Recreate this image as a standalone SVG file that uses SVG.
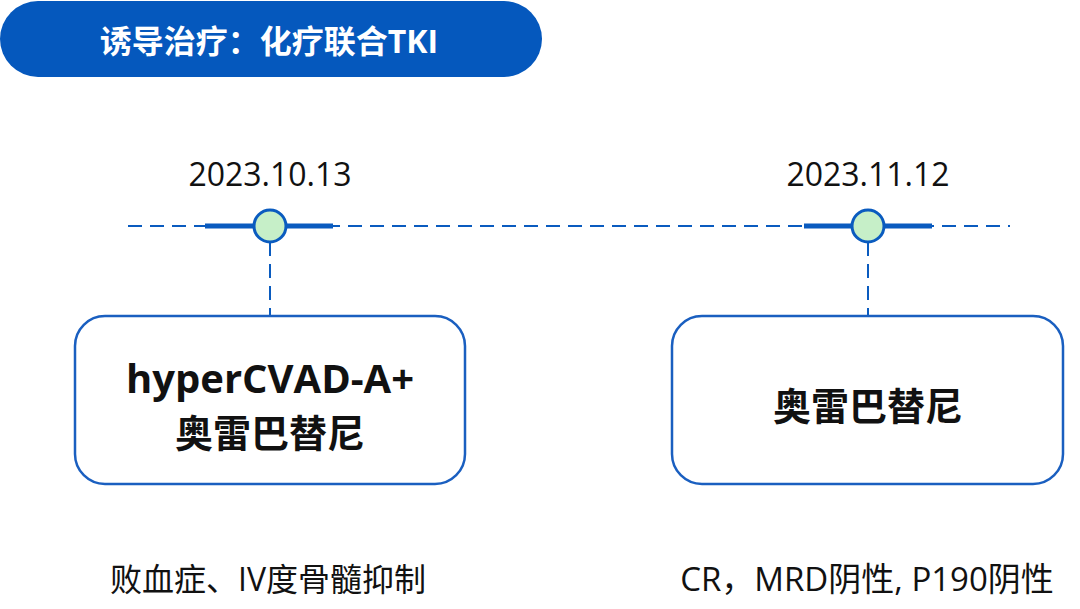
<svg xmlns="http://www.w3.org/2000/svg" width="1080" height="609" viewBox="0 0 1080 609">
<style>
.t{font-family:"Open Sans","Noto Sans CJK SC",sans-serif;fill:#111;}
.b{font-weight:bold;}
.dash{stroke:#0a5bbf;stroke-width:2;stroke-dasharray:14 8;fill:none;}
.thick{stroke:#0a5bbf;stroke-width:5;}
.dot{fill:#c6efc8;stroke:#0a5bbf;stroke-width:3;}
.box{fill:#fff;stroke:#1a5fc0;stroke-width:2.5;}
</style>
<rect width="1080" height="609" fill="#fff"/>
<g id="header">
<rect x="0" y="1" width="542" height="76" rx="38" fill="#0558bd"/>
<text class="t b" x="269" y="53" font-size="32" text-anchor="middle" style="fill:#fff">诱导治疗：化疗联合TKI</text>
</g>
<g id="connectors">
<line class="dash" x1="128" y1="226" x2="1010" y2="226"/>
<line class="thick" x1="205" y1="226" x2="333" y2="226"/>
<line class="thick" x1="804" y1="226" x2="932" y2="226"/>
<line class="dash" x1="270" y1="242" x2="270" y2="316"/>
<line class="dash" x1="868" y1="242" x2="868" y2="316"/>
</g>
<g id="m1">
<circle class="dot" cx="270" cy="226" r="16"/>
<text class="t" x="270" y="186" font-size="32" text-anchor="middle">2023.10.13</text>
</g>
<g id="m2">
<circle class="dot" cx="868" cy="226" r="16"/>
<text class="t" x="868" y="186" font-size="32" text-anchor="middle">2023.11.12</text>
</g>
<g id="box1">
<rect class="box" x="75" y="316" width="390" height="168" rx="30"/>
<text class="t b" x="270" y="393" font-size="40" text-anchor="middle">hyperCVAD-A+</text>
<text class="t b" x="270" y="447" font-size="38" text-anchor="middle">奥雷巴替尼</text>
</g>
<g id="box2">
<rect class="box" x="672" y="316" width="391" height="168" rx="30"/>
<text class="t b" x="868" y="420" font-size="38" text-anchor="middle">奥雷巴替尼</text>
</g>
<g id="note1">
<text class="t" x="268" y="591" font-size="32" text-anchor="middle">败血症、IV度骨髓抑制</text>
</g>
<g id="note2">
<text class="t" x="867" y="591" font-size="33" text-anchor="middle">CR，MRD阴性, P190阴性</text>
</g>
</svg>
